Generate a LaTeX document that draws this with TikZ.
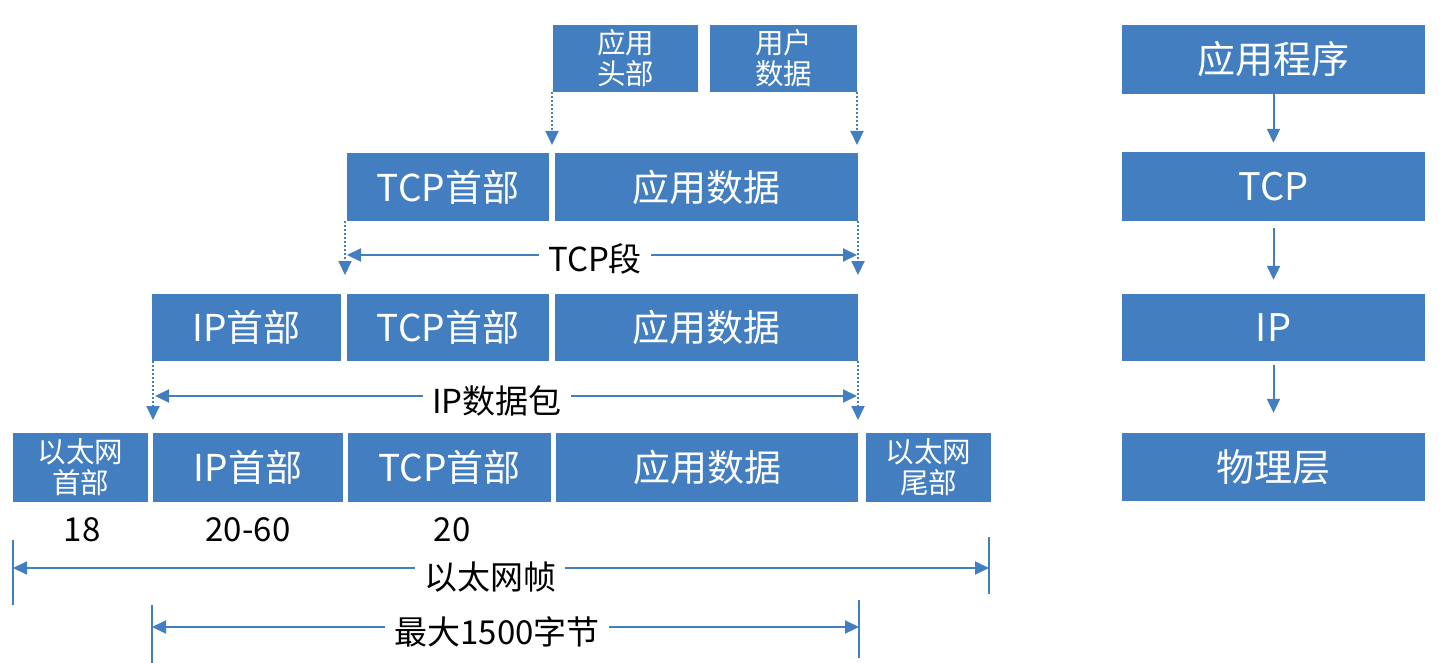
\documentclass[tikz,border=0pt]{standalone}
\usepackage{fontspec}
\setmainfont{Noto Sans CJK SC}
\usetikzlibrary{arrows.meta}
\definecolor{boxblue}{RGB}{66,126,192}
\tikzset{
  blk/.style={fill=boxblue, text=white, inner sep=0pt, align=center, font=\fontsize{37}{40}\selectfont},
  sblk/.style={blk, font=\fontsize{28.5}{31}\selectfont},
  rblk/.style={blk, font=\fontsize{38}{40}\selectfont},
  lbl/.style={text=black, inner sep=9pt, font=\fontsize{33}{36}\selectfont},
  arr/.style={draw=boxblue, line width=2pt, -{Triangle[length=14pt,width=13pt]}},
  darr/.style={arr, dotted},
  bar/.style={draw=boxblue, line width=2pt},
}
\begin{document}
\begin{tikzpicture}[x=1pt,y=-1pt]
\useasboundingbox (0,0) rectangle (1442,663);
% top row
\node[sblk, minimum width=145, minimum height=67] (ah) at (625.5,58.5) {应用\\头部};
\node[sblk, minimum width=147, minimum height=67] (ud) at (783.5,58.5) {用户\\数据};
% row 2
\node[blk, minimum width=202, minimum height=68] (tcp2) at (448,187) {TCP首部};
\node[blk, minimum width=303, minimum height=68] (app2) at (706.5,187) {应用数据};
% row 3
\node[blk, minimum width=189, minimum height=67] (ip3) at (246.5,327.5) {IP首部};
\node[blk, minimum width=202, minimum height=67] (tcp3) at (448,327.5) {TCP首部};
\node[blk, minimum width=303, minimum height=67] (app3) at (706.5,327.5) {应用数据};
% row 4
\node[sblk, minimum width=135, minimum height=69] (eh) at (80.5,467.5) {以太网\\首部};
\node[blk, minimum width=190, minimum height=69] (ip4) at (248,467.5) {IP首部};
\node[blk, minimum width=203, minimum height=69] (tcp4) at (449.5,467.5) {TCP首部};
\node[blk, minimum width=302, minimum height=69] (app4) at (707,467.5) {应用数据};
\node[sblk, minimum width=125, minimum height=69] (et) at (928.5,467.5) {以太网\\尾部};
% numbers
\node[lbl, inner sep=0pt] (n18) at (82,530) {18};
\node[lbl, inner sep=0pt] (n2060) at (248,530) {20-60};
\node[lbl, inner sep=0pt] (n20) at (452,530) {20};
% dotted arrows from top
\coordinate (d1) at (552,145);
\coordinate (d2) at (857,145);
\draw[darr] (ah.south west -| d1) -- (d1);
\draw[darr] (ud.south east -| d2) -- (d2);
% TCP segment
\coordinate (s1) at (345,275);
\coordinate (s2) at (858,275);
\draw[darr] (tcp2.south west -| s1) -- (s1);
\draw[darr] (app2.south east -| s2) -- (s2);
\node[lbl] (seg) at (595,259) {TCP段};
\coordinate (segL) at (347,255);
\coordinate (segR) at (857,255);
\draw[arr] (seg.west |- segL) -- (segL);
\draw[arr] (seg.east |- segR) -- (segR);
% IP packet
\coordinate (p1) at (153,420);
\coordinate (p2) at (858,420);
\draw[darr] (ip3.south west -| p1) -- (p1);
\draw[darr] (app3.south east -| p2) -- (p2);
\node[lbl] (pkt) at (497,401) {IP数据包};
\coordinate (pktL) at (155,396);
\coordinate (pktR) at (857,396);
\draw[arr] (pkt.west |- pktL) -- (pktL);
\draw[arr] (pkt.east |- pktR) -- (pktR);
% Ethernet frame
\coordinate (fL) at (13,568);
\coordinate (fR) at (989,568);
\draw[bar] (13,540) -- (13,605);
\draw[bar] (989,537) -- (989,594);
\node[lbl] (frm) at (490,577) {以太网帧};
\draw[arr] (frm.west |- fL) -- (fL);
\draw[arr] (frm.east |- fR) -- (fR);
% max 1500
\coordinate (mL) at (152,627);
\coordinate (mR) at (859,627);
\draw[bar] (152,605) -- (152,663);
\draw[bar] (859,600) -- (859,658);
\node[lbl] (mx) at (497,632) {最大1500字节};
\draw[arr] (mx.west |- mL) -- (mL);
\draw[arr] (mx.east |- mR) -- (mR);
% right column
\node[rblk, minimum width=303, minimum height=69] (r1) at (1273.5,59.5) {应用程序};
\node[rblk, minimum width=303, minimum height=69] (r2) at (1273.5,186.5) {TCP};
\node[rblk, minimum width=303, minimum height=67] (r3) at (1273.5,327.5) {IP};
\node[rblk, minimum width=303, minimum height=68] (r4) at (1273.5,467) {物理层};
\draw[arr, shorten >=9pt] (r1.south) -- (r2.north);
\draw[arr, shorten <=7pt, shorten >=14pt] (r2.south) -- (r3.north);
\draw[arr, shorten <=4pt, shorten >=20pt] (r3.south) -- (r4.north);
\end{tikzpicture}
\end{document}
